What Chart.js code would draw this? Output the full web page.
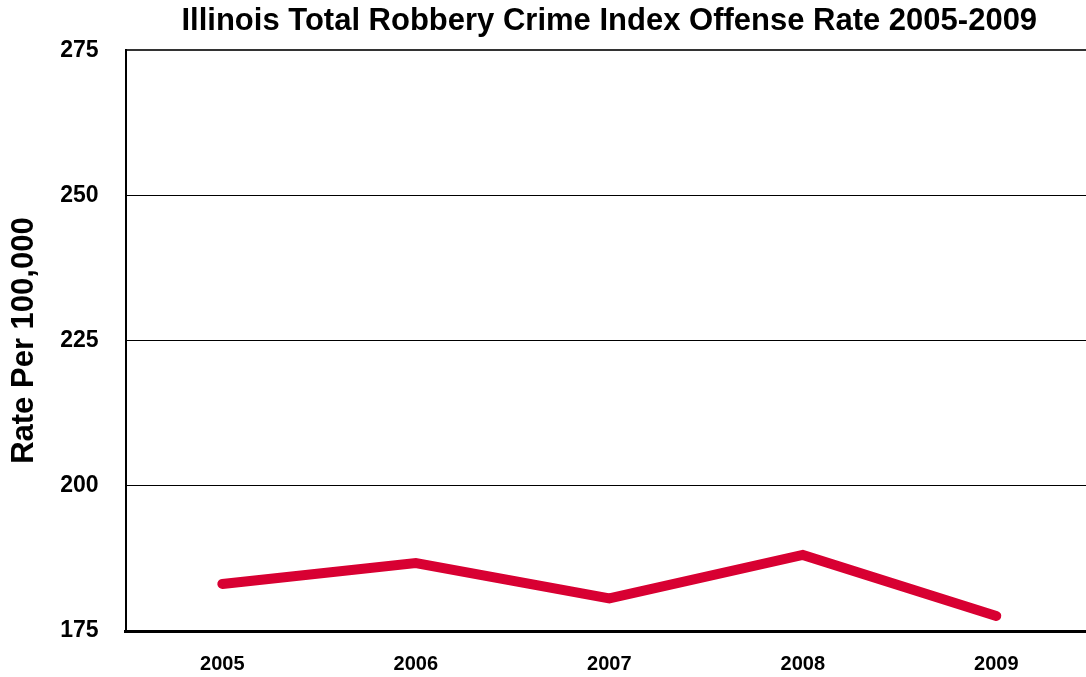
<!DOCTYPE html>
<html>
<head>
<meta charset="utf-8">
<script src="https://cdn.jsdelivr.net/npm/chart.js@4"></script>
<style>
html,body{margin:0;padding:0;background:#fff;overflow:hidden;}
#wrap{width:1086px;height:677px;overflow:hidden;}
</style>
</head>
<body>
<div id="wrap"><canvas id="c" width="1093" height="677"></canvas></div>
<script>
const categories = ['2005', '2006', '2007', '2008', '2009'];
const robberyRate = [183.1, 186.7, 180.6, 188.1, 177.6];
const yTicks = [175, 200, 225, 250, 275];

const FONT = "'Liberation Sans', Arial, Helvetica, sans-serif";

new Chart(document.getElementById('c'), {
  type: 'line',
  data: {
    labels: categories,
    datasets: [{
      data: robberyRate,
      borderColor: '#d80032',
      backgroundColor: '#d80032',
      borderWidth: 10,
      borderCapStyle: 'round',
      borderJoinStyle: 'miter',
      pointRadius: 0,
      tension: 0,
      fill: false
    }]
  },
  options: {
    responsive: false,
    animation: false,
    devicePixelRatio: 1,
    layout: { padding: { left: 2, right: 0, top: 0, bottom: -20 } },
    plugins: {
      legend: { display: false },
      tooltip: { enabled: false },
      title: {
        display: true,
        fullSize: false,
        text: 'Illinois Total Robbery Crime Index Offense Rate 2005-2009',
        color: '#000',
        font: { family: FONT, size: 31, weight: 'bold' },
        padding: { top: 3, bottom: 10 }
      }
    },
    scales: {
      x: {
        offset: true,
        grid: { display: false, drawTicks: false },
        border: { display: true, color: '#000', width: 3 },
        ticks: {
          color: '#000',
          font: { family: FONT, size: 20, weight: 'bold' },
          padding: 21,
          maxRotation: 0
        }
      },
      y: {
        min: 175,
        max: 275,
        afterBuildTicks: (scale) => { scale.ticks = yTicks.map(v => ({ value: v })); },
        grid: {
          drawTicks: false,
          color: (ctx) => (ctx.tick && ctx.tick.value === 275) ? '#333' : '#000',
          lineWidth: (ctx) => (ctx.tick && ctx.tick.value === 275) ? 2 : 1
        },
        border: { display: true, color: '#000', width: 2 },
        ticks: {
          color: '#000',
          font: { family: FONT, size: 23, weight: 'bold' },
          padding: 27
        },
        title: {
          display: true,
          text: 'Rate Per 100,000',
          color: '#000',
          font: { family: FONT, size: 31, weight: 'bold' },
          padding: { top: 4, bottom: -10 }
        }
      }
    }
  }
});
</script>
</body>
</html>
